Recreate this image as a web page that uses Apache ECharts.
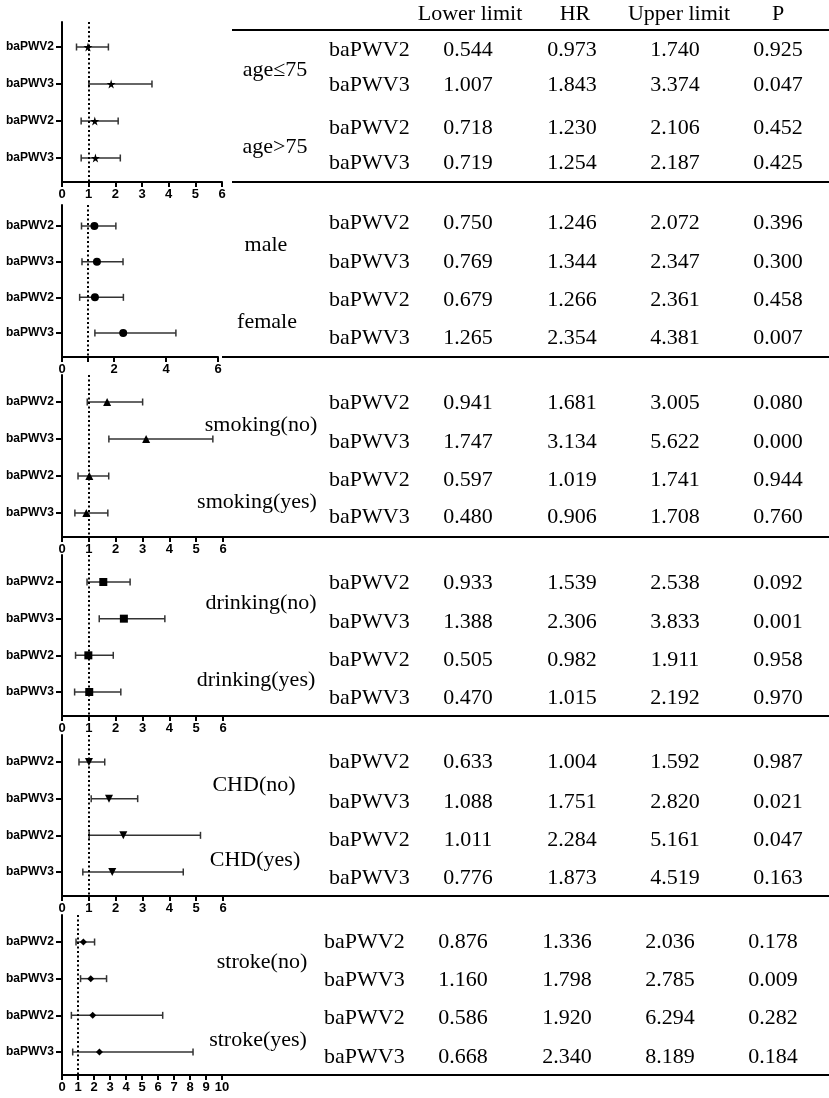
<!DOCTYPE html>
<html lang="en">
<head>
    <meta charset="UTF-8">
    <title>baPWV subgroups</title>
    <style>
        html,body{
            height: 100%;
        }
        body{
            margin: 0;
            padding: 0;
            background: #fff;
        }
        #chart_forest{
            width: 829px;
            height: 1098px;
        }
    </style>
</head>
<body>
    <div id="chart_forest"></div>
</body>
</html>
<script src="https://cdn.jsdelivr.net/npm/echarts@6.0.0/dist/echarts.min.js"></script>
<script>
    // data, two rows per group (baPWV2, baPWV3)
    var groups = ['age≤75', 'age>75', 'male', 'female', 'smoking(no)', 'smoking(yes)',
        'drinking(no)', 'drinking(yes)', 'CHD(no)', 'CHD(yes)', 'stroke(no)', 'stroke(yes)'];
    var subgroups = ['baPWV2', 'baPWV3'];
    var headers = ['Lower limit', 'HR', 'Upper limit', 'P'];
    var lower = [0.544, 1.007, 0.718, 0.719, 0.750, 0.769, 0.679, 1.265,
        0.941, 1.747, 0.597, 0.480, 0.933, 1.388, 0.505, 0.470,
        0.633, 1.088, 1.011, 0.776, 0.876, 1.160, 0.586, 0.668];
    var hr = [0.973, 1.843, 1.230, 1.254, 1.246, 1.344, 1.266, 2.354,
        1.681, 3.134, 1.019, 0.906, 1.539, 2.306, 0.982, 1.015,
        1.004, 1.751, 2.284, 1.873, 1.336, 1.798, 1.920, 2.340];
    var upper = [1.740, 3.374, 2.106, 2.187, 2.072, 2.347, 2.361, 4.381,
        3.005, 5.622, 1.741, 1.708, 2.538, 3.833, 1.911, 2.192,
        1.592, 2.820, 5.161, 4.519, 2.036, 2.785, 6.294, 8.189];
    var pvalue = [0.925, 0.047, 0.452, 0.425, 0.396, 0.300, 0.458, 0.007,
        0.080, 0.000, 0.944, 0.760, 0.092, 0.001, 0.958, 0.970,
        0.987, 0.021, 0.047, 0.163, 0.178, 0.009, 0.282, 0.184];
    var xMax = [6, 6, 6, 6, 6, 10];
    var xTickValues = [null, [0, 1, 2, 4, 6], null, null, null, null];
    var xLabelValues = [null, [0, 2, 4, 6], null, null, null, null];

    // layout of the six small plots
    var panels = [
        {top: 22, bottom: 182, r0: 47, r3: 158, right: 222},
        {top: 205, bottom: 357, r0: 226, r3: 333, right: 218},
        {top: 375, bottom: 537, r0: 402, r3: 513, right: 223},
        {top: 555, bottom: 716, r0: 582, r3: 692, right: 223},
        {top: 735, bottom: 896, r0: 762, r3: 872, right: 223},
        {top: 915, bottom: 1075, r0: 942, r3: 1052, right: 222}
    ];
    var symbols = [
        'path://M50,0 L61,35 L98,35 L68,57 L79,91 L50,70 L21,91 L32,57 L2,35 L39,35 Z',
        'circle', 'triangle', 'rect', 'triangle', 'diamond'
    ];
    var symbolSizes = [9, 8, 8, 8, 8, 7];
    var symbolRotate = [0, 0, 0, 0, 180, 0];

    // layout of the table
    var tableRows = [
        [50, 85, 128, 163], [223, 262, 300, 338], [403, 442, 480, 517],
        [583, 622, 660, 698], [762, 802, 840, 878], [942, 980, 1018, 1057]
    ];
    var groupLabelY = [70, 147, 245, 322, 425, 502, 603, 680, 785, 860, 962, 1040];
    var groupLabelX = [275, 275, 266, 267, 261, 257, 261, 256, 254, 255, 262, 258];
    var colShift = [0, 0, 0, 0, 0, -5];
    var colX = [468, 572, 675, 778];
    var headerX = [470, 575, 679, 778];
    var lineY = [30, 182, 357, 537, 716, 896, 1075];

    var serif = '22px "Liberation Serif", "Times New Roman", serif';

    function txt(s, x, y, align) {
        return {
            type: 'text',
            silent: true,
            style: {
                text: s, x: x, y: y, font: serif, fill: '#000',
                align: align, verticalAlign: 'middle',
                textAlign: align, textVerticalAlign: 'middle'
            }
        };
    }

    function renderBar(params, api) {
        var y = api.value(2);
        var p1 = api.coord([api.value(0), y]);
        var p2 = api.coord([api.value(1), y]);
        var h = 3.5;
        var st = {stroke: '#333', lineWidth: 1.5};
        return {
            type: 'group',
            children: [
                {type: 'line', shape: {x1: p1[0], y1: p1[1], x2: p2[0], y2: p2[1]}, style: st},
                {type: 'line', shape: {x1: p1[0], y1: p1[1] - h, x2: p1[0], y2: p1[1] + h}, style: st},
                {type: 'line', shape: {x1: p2[0], y1: p2[1] - h, x2: p2[0], y2: p2[1] + h}, style: st}
            ]
        };
    }

    var grids = [], xAxes = [], yAxes = [], series = [], graphics = [];

    panels.forEach(function (p, n) {
        var H = p.bottom - p.top;
        var span = 3 * H / (p.r3 - p.r0);
        var yMin = -(p.r0 - p.top) / H * span;
        grids.push({left: 62, top: p.top, width: p.right - 62, height: H});

        var tickVals = xTickValues[n];
        var labelVals = xLabelValues[n];
        var xa = {
            type: 'value', gridIndex: n, min: 0, max: xMax[n], interval: 1,
            splitLine: {show: false},
            axisLine: {show: true, onZero: false, lineStyle: {color: '#000', width: 2}},
            axisTick: {show: true, length: 5, lineStyle: {color: '#000', width: 2}},
            axisLabel: {
                margin: 6, color: '#000', fontWeight: 'bold', fontSize: 13,
                fontFamily: '"Liberation Sans", Arial, sans-serif'
            }
        };
        if (tickVals) xa.axisTick.customValues = tickVals;
        if (labelVals) xa.axisLabel.customValues = labelVals;
        xAxes.push(xa);

        yAxes.push({
            type: 'value', gridIndex: n, min: yMin, max: yMin + span, inverse: true,
            splitLine: {show: false},
            axisLine: {show: true, onZero: false, lineStyle: {color: '#000', width: 2}},
            axisTick: {show: true, length: 6, customValues: [0, 1, 2, 3], lineStyle: {color: '#000', width: 2}},
            axisLabel: {
                customValues: [0, 1, 2, 3], margin: 8, color: '#000', fontWeight: 'bold', fontSize: 12,
                fontFamily: '"Liberation Sans", Arial, sans-serif',
                formatter: function (v) { return subgroups[Math.round(v) % 2]; }
            }
        });

        var bars = [], points = [];
        for (var i = 0; i < 4; i++) {
            var k = n * 4 + i;
            bars.push([lower[k], upper[k], i]);
            points.push([hr[k], i]);
        }
        series.push({
            type: 'custom', xAxisIndex: n, yAxisIndex: n, clip: false,
            renderItem: renderBar, data: bars, silent: true
        });
        series.push({
            type: 'scatter', xAxisIndex: n, yAxisIndex: n, data: points,
            symbol: symbols[n], symbolSize: symbolSizes[n], symbolRotate: symbolRotate[n],
            itemStyle: {color: '#000', opacity: 1}, silent: true, z: 5,
            markLine: {
                silent: true, symbol: 'none', label: {show: false},
                lineStyle: {color: '#000', width: 2, type: [2, 2.5]},
                data: [{xAxis: 1}]
            }
        });

        // table part
        var dx = colShift[n];
        for (var j = 0; j < 4; j++) {
            var r = n * 4 + j;
            var y = tableRows[n][j];
            graphics.push(txt(subgroups[j % 2], 329 + dx, y, 'left'));
            graphics.push(txt(lower[r].toFixed(3), colX[0] + dx, y, 'center'));
            graphics.push(txt(hr[r].toFixed(3), colX[1] + dx, y, 'center'));
            graphics.push(txt(upper[r].toFixed(3), colX[2] + dx, y, 'center'));
            graphics.push(txt(pvalue[r].toFixed(3), colX[3] + dx, y, 'center'));
        }
    });

    groups.forEach(function (g, i) {
        graphics.push(txt(g, groupLabelX[i], groupLabelY[i], 'center'));
    });
    headers.forEach(function (h, i) {
        graphics.push(txt(h, headerX[i], 14, 'center'));
    });
    lineY.forEach(function (y, i) {
        graphics.push({
            type: 'line', silent: true,
            shape: {x1: i < 2 ? 232 : 222, y1: y, x2: 829, y2: y},
            style: {stroke: '#000', lineWidth: 2}
        });
    });

    var myChart = echarts.init(document.getElementById('chart_forest'));
    myChart.setOption({
        animation: false,
        backgroundColor: '#fff',
        grid: grids,
        xAxis: xAxes,
        yAxis: yAxes,
        series: series,
        graphic: {elements: graphics}
    });
</script>
